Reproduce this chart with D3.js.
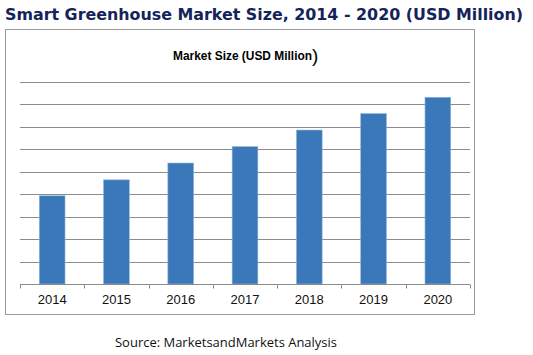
<!DOCTYPE html>
<html><head><meta charset="utf-8">
<script src="https://cdn.jsdelivr.net/npm/d3@7"></script>
<style>body{margin:0;background:#fff}svg{display:block}</style>
</head><body>
<script>
const years = ["2014","2015","2016","2017","2018","2019","2020"];
const marketSize = [393, 464, 539, 612, 686, 759, 832];
const gridTicks = [100,200,300,400,500,600,700,800,900];
const titleText = "Smart Greenhouse Market Size, 2014 - 2020 (USD Million)";
const innerTitle = "Market Size (USD Million";
const sourceText = "Source: MarketsandMarkets Analysis";

const W = 533, H = 355;
const svg = d3.select("body").append("svg").attr("width", W).attr("height", H);

svg.append("text").attr("x", 5).attr("y", 20)
  .attr("font-family", "DejaVu Sans").attr("font-weight", "bold").attr("font-size", 16)
  .attr("fill", "#14245a").attr("textLength", 518).attr("lengthAdjust", "spacingAndGlyphs")
  .text(titleText);

svg.append("rect").attr("x", 5.5).attr("y", 29.5).attr("width", 469).attr("height", 285)
  .attr("fill", "#fff").attr("stroke", "#9a9a9a").attr("stroke-width", 1);

const x = d3.scaleBand().domain(years).range([20, 470]).paddingInner(0.6).paddingOuter(0.3);
const y = d3.scaleLinear().domain([0, 900]).range([284, 82]);

const g = svg.append("g");
g.selectAll("line.grid").data(gridTicks).join("line").attr("class","grid")
  .attr("x1", 20).attr("x2", 470)
  .attr("y1", d => Math.round(y(d)) + 0.5).attr("y2", d => Math.round(y(d)) + 0.5)
  .attr("stroke", "#8c8c8c").attr("stroke-width", 1);

g.selectAll("rect.bar").data(marketSize).join("rect").attr("class","bar")
  .attr("x", (d,i) => x(years[i])).attr("width", x.bandwidth())
  .attr("y", d => y(d)).attr("height", d => y(0) - y(d))
  .attr("fill", "#3a78b9").attr("stroke", "#8fb4da").attr("stroke-width", 0.6);

const xAxis = d3.axisBottom(x).tickSize(0).tickPadding(10.5);
const ax = svg.append("g").attr("transform", `translate(0,${Math.round(y(0)) + 0.5})`).call(xAxis);
ax.select(".domain").attr("stroke", "#8c8c8c").attr("d", "M20,0H470");
ax.selectAll("text").attr("font-family", "Liberation Sans, Arial").attr("font-size", 13).attr("fill", "#111");
// boundary tick marks between categories
const bounds = d3.range(years.length + 1).map(i => 20 + i * (450 / years.length));
ax.selectAll("line.bt").data(bounds).join("line").attr("class","bt")
  .attr("x1", d => Math.round(d) + 0.5).attr("x2", d => Math.round(d) + 0.5)
  .attr("y1", 0).attr("y2", 4).attr("stroke", "#8c8c8c");

svg.append("text").attr("x", 173).attr("y", 60)
  .attr("font-family", "Liberation Sans, Arial").attr("font-weight", "bold").attr("font-size", 12)
  .attr("fill", "#000").attr("textLength", 139).attr("lengthAdjust", "spacingAndGlyphs")
  .text(innerTitle);
svg.append("text").attr("x", 312).attr("y", 62)
  .attr("font-family", "Liberation Sans, Arial").attr("font-size", 19).attr("fill", "#000")
  .text(")");

svg.append("text").attr("x", 115).attr("y", 347)
  .attr("font-family", "Open Sans, Carlito, Liberation Sans").attr("font-size", 13).attr("fill", "#111")
  .attr("textLength", 222).attr("lengthAdjust", "spacingAndGlyphs")
  .text(sourceText);
</script>
</body></html>
